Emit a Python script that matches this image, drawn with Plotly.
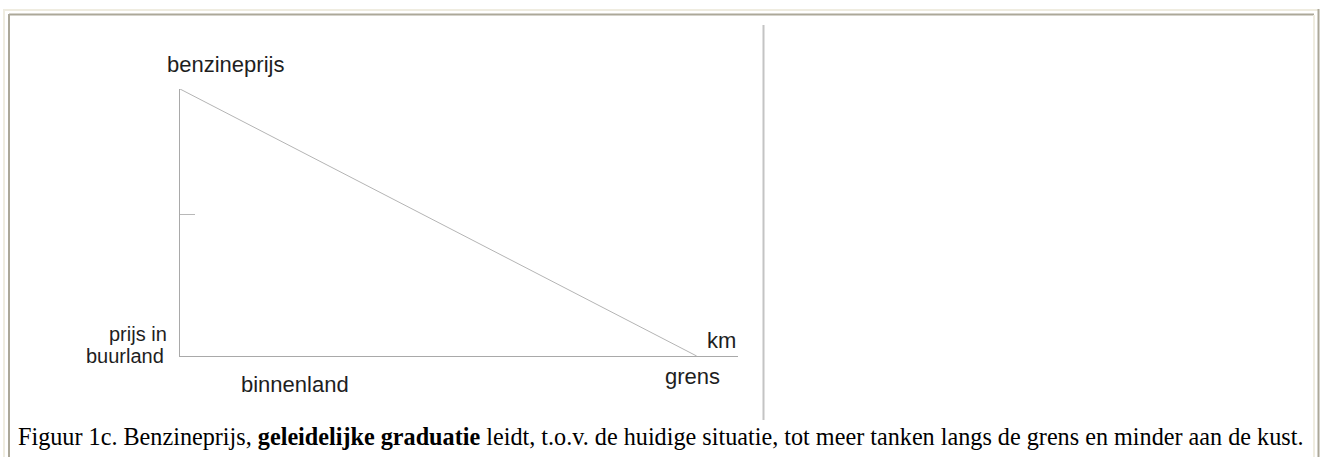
import plotly.graph_objects as go

# ---- data (conceptual diagram: price declines linearly from inland to border) ----
distance = [0.0, 1.0]          # binnenland -> grens (relative km)
price = [1.0, 0.0]             # benzineprijs -> prijs in buurland (relative)
mid_tick = [0.53]              # small mark on price axis
x_range = [0.0, 1.08]
y_range = [0.0, 1.0]

y_label = "benzineprijs"
y_low_label = ["prijs in", "buurland"]
x_label = "km"
x_left_label = "binnenland"
x_right_label = "grens"
caption = ("Figuur 1c. Benzineprijs, <b>geleidelijke graduatie</b> leidt, t.o.v. de huidige "
           "situatie, tot meer tanken langs de grens en minder aan de kust.")

W, H = 1331, 457


def px(x):
    return x / W


def py(y):
    return 1 - y / H


fig = go.Figure()
fig.add_trace(go.Scatter(x=distance, y=price, mode="lines",
                         line=dict(color="#b4b4b4", width=1), hoverinfo="skip",
                         showlegend=False))

axis_col = "#a9a9a9"
fig.update_layout(
    width=W, height=H,
    margin=dict(l=0, r=0, t=0, b=0),
    paper_bgcolor="white", plot_bgcolor="white",
    xaxis=dict(domain=[px(180), px(738)], range=x_range, showline=True,
               linecolor=axis_col, linewidth=1, showgrid=False, zeroline=False,
               showticklabels=False, ticks=""),
    yaxis=dict(domain=[py(356), py(89)], range=y_range, showline=True,
               linecolor=axis_col, linewidth=1, showgrid=False, zeroline=False,
               showticklabels=False, tickvals=mid_tick, ticks="inside",
               ticklen=15, tickcolor="#b8b8b8", tickwidth=1),
)

lab_font = dict(family="Liberation Sans, Arial, sans-serif", size=22, color="#1e1e1e")
small_font = dict(family="Liberation Sans, Arial, sans-serif", size=20, color="#1e1e1e")


def ann(text, x, y, xanchor="center", font=lab_font):
    fig.add_annotation(text=text, x=px(x), y=py(y), xref="paper", yref="paper",
                       xanchor=xanchor, yanchor="middle", showarrow=False, font=font)


ann(y_label, 225, 64)
ann(y_low_label[0], 169, 334, xanchor="right", font=small_font)
ann(y_low_label[1], 166, 356, xanchor="right", font=small_font)
ann(x_left_label, 295, 384)
ann(x_right_label, 692, 376)
ann(x_label, 721, 340)

ann(caption, 16, 436, xanchor="left",
    font=dict(family="Liberation Serif, Times New Roman, serif", size=24.2, color="black"))

# frame decoration
light = "#efece0"
dark = "#aca899"


def seg(x0, y0, x1, y1, color, width=2):
    return dict(type="line", xref="paper", yref="paper",
                x0=px(x0), x1=px(x1), y0=py(y0), y1=py(y1),
                line=dict(color=color, width=width))


shapes = [
    seg(4, 9, 4, H, light),
    seg(4, 10, 1319, 10, light),
    seg(9, 14, 9, H, dark),
    seg(9, 14.5, 1314, 14.5, dark),
    seg(1314, 15, 1314, H, light),
    seg(1318.5, 9, 1318.5, H, dark),
    seg(763.5, 25, 763.5, 420, "#c4c4c4"),
]
fig.update_layout(shapes=shapes)

fig.write_html("out.html", config={"displayModeBar": False},
               post_script="document.body.style.margin='0';")
